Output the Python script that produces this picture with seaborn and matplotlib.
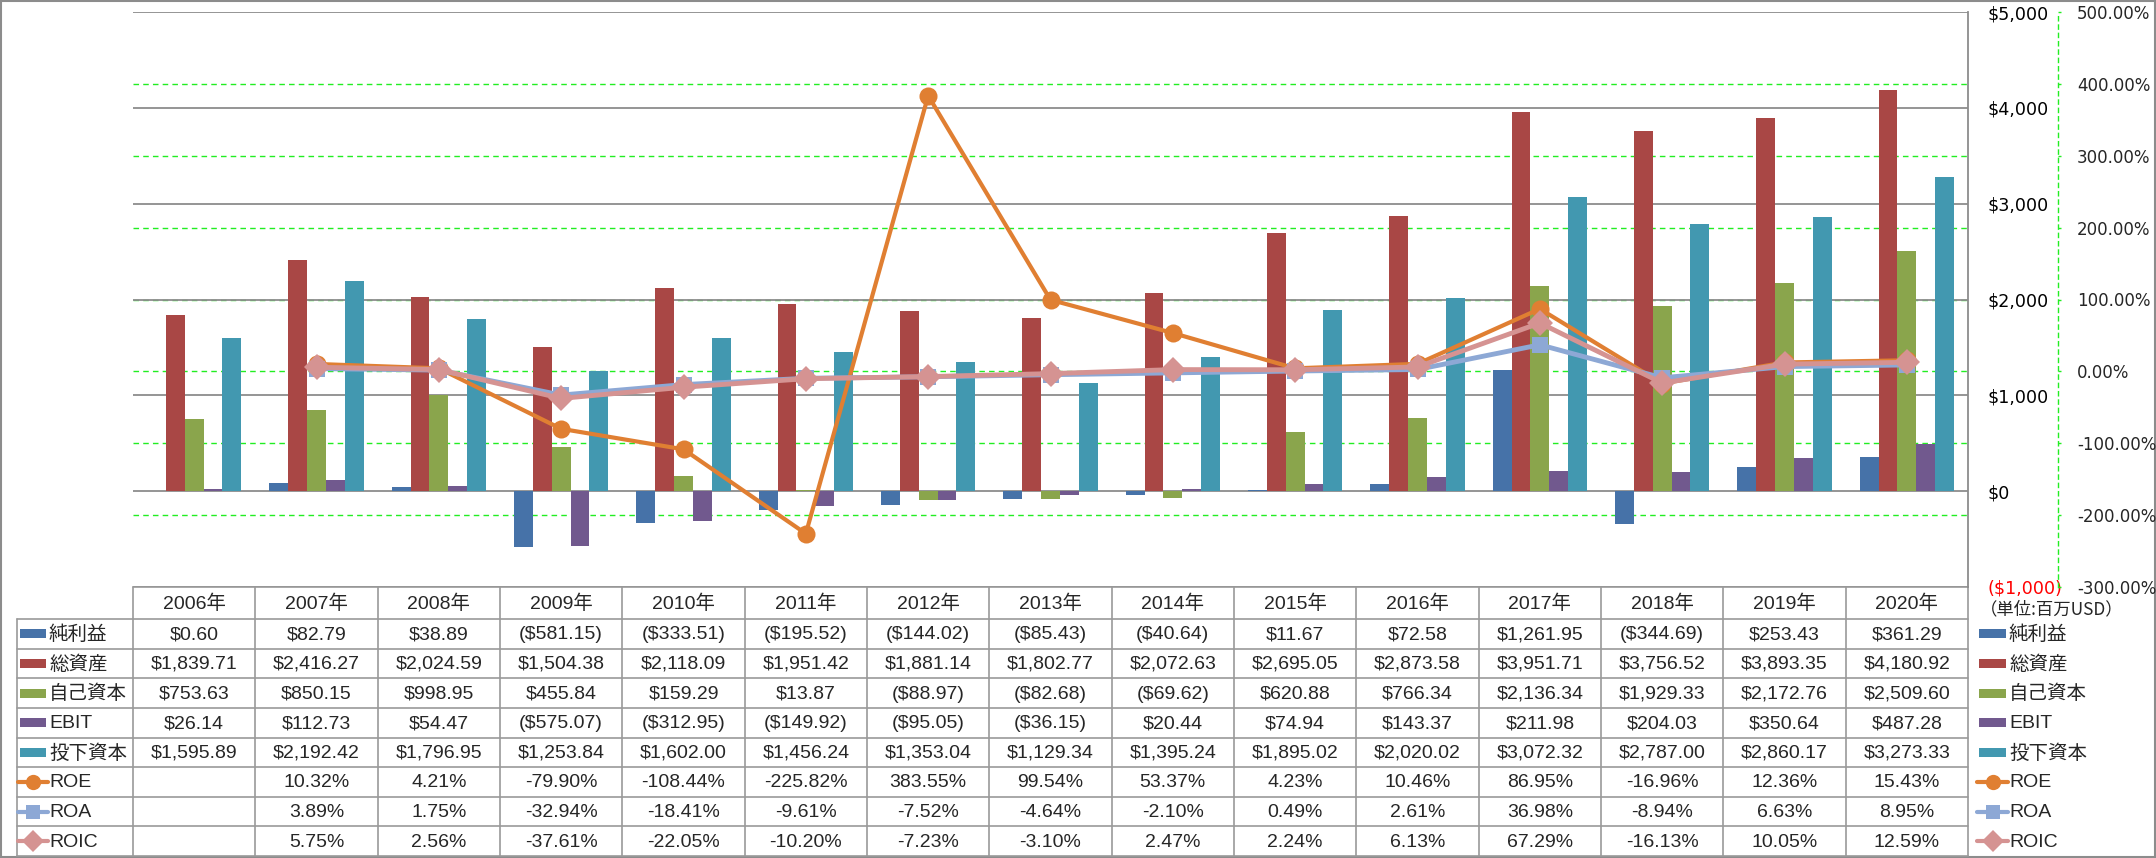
import matplotlib
matplotlib.use("Agg")
import matplotlib.pyplot as plt
import numpy as np
import pandas as pd
import seaborn as sns
from matplotlib import font_manager
from matplotlib.lines import Line2D
from matplotlib.patches import Rectangle

# data (単位: 百万USD, ratios in %)
years = [str(y) for y in range(2006, 2021)]
net_income = [0.60, 82.79, 38.89, -581.15, -333.51, -195.52, -144.02, -85.43, -40.64, 11.67, 72.58, 1261.95, -344.69, 253.43, 361.29]
total_assets = [1839.71, 2416.27, 2024.59, 1504.38, 2118.09, 1951.42, 1881.14, 1802.77, 2072.63, 2695.05, 2873.58, 3951.71, 3756.52, 3893.35, 4180.92]
equity = [753.63, 850.15, 998.95, 455.84, 159.29, 13.87, -88.97, -82.68, -69.62, 620.88, 766.34, 2136.34, 1929.33, 2172.76, 2509.60]
ebit = [26.14, 112.73, 54.47, -575.07, -312.95, -149.92, -95.05, -36.15, 20.44, 74.94, 143.37, 211.98, 204.03, 350.64, 487.28]
invested = [1595.89, 2192.42, 1796.95, 1253.84, 1602.00, 1456.24, 1353.04, 1129.34, 1395.24, 1895.02, 2020.02, 3072.32, 2787.00, 2860.17, 3273.33]
roe = [np.nan, 10.32, 4.21, -79.90, -108.44, -225.82, 383.55, 99.54, 53.37, 4.23, 10.46, 86.95, -16.96, 12.36, 15.43]
roa = [np.nan, 3.89, 1.75, -32.94, -18.41, -9.61, -7.52, -4.64, -2.10, 0.49, 2.61, 36.98, -8.94, 6.63, 8.95]
roic = [np.nan, 5.75, 2.56, -37.61, -22.05, -10.20, -7.23, -3.10, 2.47, 2.24, 6.13, 67.29, -16.13, 10.05, 12.59]

bar_names = ["純利益", "総資産", "自己資本", "EBIT", "投下資本"]
bar_colors = ["#4672A8", "#A94745", "#8AA54C", "#71598E", "#4298B0"]
line_names = ["ROE", "ROA", "ROIC"]
line_colors = ["#E07F32", "#8DA8D5", "#D59392"]
line_markers = ["o", "s", "D"]
line_msize = [13, 12, 13]
line_width = [3.0, 3.5, 3.5]

usd_lim = (-1000, 5000)
pct_lim = (-300, 500)


def pick_font(names):
    for n in names:
        try:
            font_manager.findfont(n, fallback_to_default=False)
            return n
        except ValueError:
            pass
    return "DejaVu Sans"


sns.set_style("white")
narrow = pick_font(["Liberation Sans Narrow", "DejaVu Sans Condensed", "Liberation Sans"])
TABLE_FONT = [narrow, "Noto Sans CJK JP", "DejaVu Sans"]
plt.rcParams["font.family"] = ["DejaVu Sans", "Noto Sans CJK JP"]

W, H = 2156, 858
fig = plt.figure(figsize=(W / 100, H / 100), dpi=100)
fig.patch.set_facecolor("white")

# table / frame layer in pixel coordinates
tab = fig.add_axes([0, 0, 1, 1])
tab.set_xlim(0, W)
tab.set_ylim(H, 0)
tab.axis("off")

PL, PR, PT, PB = 133, 1968, 12, 587
ax = fig.add_axes([PL / W, (H - PB) / H, (PR - PL) / W, (PB - PT) / H])

bars = pd.DataFrame({"年": years, "純利益": net_income, "総資産": total_assets,
                     "自己資本": equity, "EBIT": ebit, "投下資本": invested})
long = bars.melt(id_vars="年", var_name="項目", value_name="値")
sns.barplot(data=long, x="年", y="値", hue="項目", hue_order=bar_names, palette=bar_colors,
            width=0.77, saturation=1, linewidth=0, errorbar=None, legend=False, ax=ax, zorder=2)


def pct_to_usd(p):
    return usd_lim[0] + (p - pct_lim[0]) * (usd_lim[1] - usd_lim[0]) / (pct_lim[1] - pct_lim[0])


pct_ticks = list(range(pct_lim[0], pct_lim[1] + 1, 100))
for p in pct_ticks[1:-1]:
    ax.axhline(pct_to_usd(p), color="#22EE22", linewidth=1.0, linestyle=(0, (4, 3)), zorder=0.5)

ax2 = ax.twinx()
xpos = np.arange(len(years))
for vals, name, c, m, ms, lw in zip([roe, roa, roic], line_names, line_colors, line_markers, line_msize, line_width):
    sns.lineplot(x=xpos, y=vals, ax=ax2, color=c, marker=m, markersize=ms, linewidth=lw,
                 markeredgewidth=0, legend=False)

# primary axis (USD), labels to the right of the plot
ax.set_xlim(-0.5, len(years) - 0.5)
ax.set_ylim(*usd_lim)
ax.set_xlabel("")
ax.set_ylabel("")
ax.set_xticks([])
ax.yaxis.tick_right()
ax.yaxis.set_label_position("right")
usd_ticks = list(range(usd_lim[0], usd_lim[1] + 1, 1000))
ax.set_yticks(usd_ticks, [f"${v:,}" if v >= 0 else f"(${-v:,})" for v in usd_ticks])
for v, lab in zip(usd_ticks, ax.get_yticklabels()):
    lab.set_color("#FF0000" if v < 0 else "black")
ax.tick_params(axis="y", length=0, pad=14, labelsize=12.6, labelright=True, labelleft=False)
for s in ["left", "top", "bottom"]:
    ax.spines[s].set_visible(False)
ax.spines["right"].set_color("#8C8C8C")
ax.spines["right"].set_linewidth(1.3)
ax.grid(axis="y", color="#8C8C8C", linewidth=1.3, zorder=0)
ax.set_axisbelow(True)

# secondary axis (%)
ax2.set_ylim(*pct_lim)
ax2.set_xlim(-0.5, len(years) - 0.5)
ax2.set_ylabel("")
ax2.set_yticks(pct_ticks, [f"{p:.2f}%" for p in pct_ticks])
for p, lab in zip(pct_ticks, ax2.get_yticklabels()):
    lab.set_color("#FF0000" if p < 0 else "black")
ax2.tick_params(axis="y", length=2.5, width=1, color="#22EE22", pad=11, labelsize=12)
for s in ["left", "top", "bottom"]:
    ax2.spines[s].set_visible(False)
ax2.spines["right"].set_position(("outward", 65))
ax2.spines["right"].set_color("#22EE22")
ax2.spines["right"].set_linestyle((0, (3, 3)))
ax2.spines["right"].set_linewidth(1.0)
ax2.grid(False)

# data table
grid_c = "#9A9A9A"
colw = (PR - PL) / len(years)
col_edges = [PL + i * colw for i in range(len(years) + 1)]
head_top, head_bot, tab_bot = 587, 619, 856
row_h = (tab_bot - head_bot) / 8
row_edges = [head_bot + k * row_h for k in range(9)]
LBL_L = 17

tab.plot([PL, PR], [head_top, head_top], color=grid_c, lw=1.2)
for y in row_edges:
    tab.plot([LBL_L, PR], [y, y], color=grid_c, lw=1.2)
for x in col_edges:
    tab.plot([x, x], [head_top, tab_bot], color=grid_c, lw=1.2)
tab.plot([LBL_L, LBL_L], [head_bot, tab_bot], color=grid_c, lw=1.2)

fs = 14
for i, y in enumerate(years):
    tab.text((col_edges[i] + col_edges[i + 1]) / 2, (head_top + head_bot) / 2 + 1, f"{y}年",
             ha="center", va="center", fontsize=fs, family=TABLE_FONT)


def usd_fmt(v):
    return f"${v:,.2f}" if v >= 0 else f"(${-v:,.2f})"


def pct_fmt(v):
    return "" if np.isnan(v) else f"{v:.2f}%"


rows = [(n, [usd_fmt(v) for v in vals]) for n, vals in
        zip(bar_names, [net_income, total_assets, equity, ebit, invested])]
rows += [(n, [pct_fmt(v) for v in vals]) for n, vals in zip(line_names, [roe, roa, roic])]

for r, (name, cells) in enumerate(rows):
    yc = (row_edges[r] + row_edges[r + 1]) / 2
    for i, s in enumerate(cells):
        tab.text((col_edges[i] + col_edges[i + 1]) / 2, yc + 1, s, ha="center", va="center",
                 fontsize=fs, family=TABLE_FONT)
    # legend keys: inside the label column and to the right of the table
    for kx0, kx1, tx in [(20, 46, 49), (1979, 2006, 2009)]:
        if r < len(bar_names):
            tab.add_patch(Rectangle((kx0, yc - 4.5), kx1 - kx0, 9, color=bar_colors[r], lw=0))
        else:
            k = r - len(bar_names)
            tab.add_line(Line2D([kx0 - 2, kx1 + 2], [yc, yc], color=line_colors[k], lw=3))
            tab.add_line(Line2D([(kx0 + kx1) / 2], [yc], color=line_colors[k], marker=line_markers[k],
                                markersize=line_msize[k] - 2, markeredgewidth=0, lw=0))
        tab.text(tx, yc + 1, name, ha="left", va="center", fontsize=fs, family=TABLE_FONT)

tab.text(1980, 609, "（単位:百万USD）", ha="left", va="center", fontsize=12.5,
         family=["Noto Sans CJK JP", "DejaVu Sans"])

tab.add_patch(Rectangle((0.5, 0.5), W - 1.5, H - 1.5, fill=False, ec="#8C8C8C", lw=1.5))

fig.savefig("out.png", dpi=100)
